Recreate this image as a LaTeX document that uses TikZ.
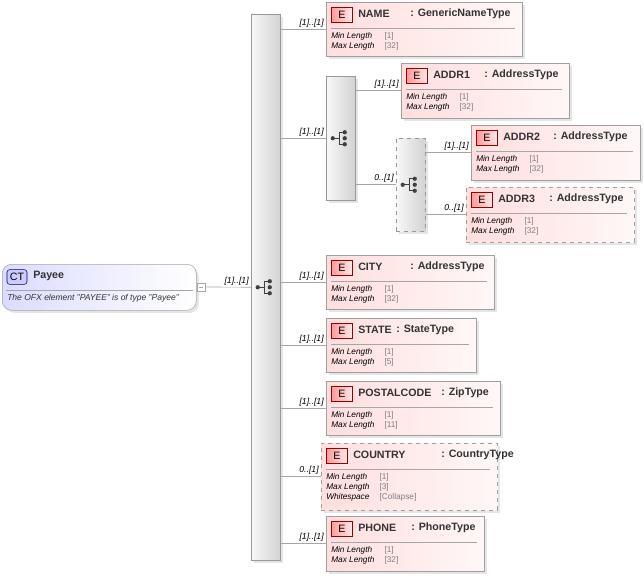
\documentclass[tikz,border=0pt]{standalone}
\usepackage{fontspec}
\setmainfont{Liberation Sans}
\usetikzlibrary{shadows}
\tikzset{
  px/.style={x=0.75pt,y=-0.75pt},
  bar/.style={draw=gray!80, left color=gray!6, right color=gray!35, anchor=north west, inner sep=0pt, drop shadow={shadow xshift=2pt, shadow yshift=-2pt, fill=gray!40}},
  elem/.style={draw=gray!75, left color=red!13, right color=red!3, anchor=north west, inner sep=0pt, drop shadow={shadow xshift=2pt, shadow yshift=-2pt, fill=gray!40}},
  badge/.style={draw=red!60!black, left color=red!40, right color=red!8, minimum width=16pt, minimum height=11pt, inner sep=0pt, font=\fontsize{8}{9}\selectfont},
  ttl/.style={anchor=west, inner sep=0pt, font=\bfseries\fontsize{8}{9}\selectfont, text=black!80},
  props/.style={anchor=north west, inner sep=0pt, align=left, font=\fontsize{6.2}{7.6}\selectfont},
  card/.style={above left, inner sep=1.5pt, font=\itshape\fontsize{6.5}{7}\selectfont},
  conn/.style={draw=gray!70, line width=0.5pt}
}
\def\bstyle{solid}
\newcommand\prop[2]{\makebox[40pt][l]{\textit{#1}}\textcolor{gray}{#2}}
% name, x, y, w, h, title, type, type offset, properties
\newcommand\elem[9]{%
  \node[elem, \bstyle, minimum width={#4*0.75pt}, minimum height={#5*0.75pt}] (#1) at (#2,#3) {};
  \node[badge] at (#2+16,#3+13) {E};
  \node[ttl] at (#2+32,#3+12) {#6};
  \node[ttl] at (#2+#8,#3+12) {: #7};
  \draw[gray!70] ([shift={(5,26)}]#1.north west) -- ([shift={(-8,26)}]#1.north east);
  \node[props] at (#2+5,#3+30) {#9};
}
\newcommand\seqicon[1]{%
  \fill[black!75] ([xshift=-6pt]#1) circle (1.6pt);
  \draw[black!75, line width=0.7pt] ([xshift=-6pt]#1) -- ([xshift=-1pt]#1)
    ([shift={(-1pt,-4.5pt)}]#1) -- ([shift={(-1pt,4.5pt)}]#1)
    ([shift={(-1pt,-4.5pt)}]#1) -- ([shift={(3pt,-4.5pt)}]#1)
    ([shift={(-1pt,4.5pt)}]#1) -- ([shift={(3pt,4.5pt)}]#1);
  \foreach \dy in {-4.5pt,0pt,4.5pt} \fill[black!75] ([shift={(3pt,\dy)}]#1) circle (1.6pt);
}
\begin{document}
\begin{tikzpicture}[px]
\path[use as bounding box] (0,0) rectangle (644,578);

% root
\node[draw=gray!70, rounded corners=7pt, left color=blue!14, right color=white, anchor=north west, minimum width={194*0.75pt}, minimum height={46*0.75pt}, inner sep=0pt, drop shadow={shadow xshift=2pt, shadow yshift=-2pt, fill=gray!40}] (payee) at (2,264) {};
\node[draw=blue!50!black, fill=blue!20, rounded corners=2pt, minimum width=15pt, minimum height=11pt, inner sep=0pt, font=\fontsize{8}{9}\selectfont] at (17,277) {CT};
\node[ttl] at (33,276) {Payee};
\draw[gray!70] (6,290) -- (193,290);
\node[anchor=west, inner sep=0pt, font=\itshape\fontsize{6.4}{7}\selectfont, text=black!80] at (7,298) {The OFX element "PAYEE" is of type "Payee"};
\node[draw=gray!70, fill=white, minimum size=6pt, inner sep=0pt] (pq) at (201,287) {};
\draw[gray!70] (199,287) -- (203,287);

% sequences
\node[bar, minimum width={29*0.75pt}, minimum height={546*0.75pt}] (main) at (251,14) {};
\seqicon{main.center}
\node[bar, minimum width={29*0.75pt}, minimum height={124*0.75pt}] (seq2) at (326,76) {};
\seqicon{seq2.center}
\node[bar, dashed, minimum width={29*0.75pt}, minimum height={93*0.75pt}] (seq3) at (396,138) {};
\seqicon{seq3.center}

% elements
\elem{name}{326}{2}{196}{54}{NAME}{GenericNameType}{84}{\prop{Min Length}{[1]}\\\prop{Max Length}{[32]}}
\elem{addr1}{401}{63}{168}{55}{ADDR1}{AddressType}{83}{\prop{Min Length}{[1]}\\\prop{Max Length}{[32]}}
\elem{addr2}{471}{125}{169}{55}{ADDR2}{AddressType}{82}{\prop{Min Length}{[1]}\\\prop{Max Length}{[32]}}
\def\bstyle{dashed}
\elem{addr3}{466}{187}{168}{55}{ADDR3}{AddressType}{83}{\prop{Min Length}{[1]}\\\prop{Max Length}{[32]}}
\def\bstyle{solid}
\elem{city}{326}{255}{168}{54}{CITY}{AddressType}{84}{\prop{Min Length}{[1]}\\\prop{Max Length}{[32]}}
\elem{state}{326}{318}{150}{54}{STATE}{StateType}{70}{\prop{Min Length}{[1]}\\\prop{Max Length}{[5]}}
\elem{postal}{326}{381}{174}{54}{POSTALCODE}{ZipType}{115}{\prop{Min Length}{[1]}\\\prop{Max Length}{[11]}}
\def\bstyle{dashed}
\elem{country}{321}{443}{176}{67}{COUNTRY}{CountryType}{120}{\prop{Min Length}{[1]}\\\prop{Max Length}{[3]}\\\prop{Whitespace}{[Collapse]}}
\def\bstyle{solid}
\elem{phone}{326}{516}{158}{55}{PHONE}{PhoneType}{85}{\prop{Min Length}{[1]}\\\prop{Max Length}{[32]}}

% connectors
\draw[conn] (pq) -- node[pos=1, card] {[1]..[1]} (main);
\draw[conn] (main.east |- name.west) -- node[pos=1, card] {[1]..[1]} (name.west);
\draw[conn] (main.east |- seq2.west) -- node[pos=1, card] {[1]..[1]} (seq2.west);
\draw[conn] (seq2.east |- addr1.west) -- node[pos=1, card] {[1]..[1]} (addr1.west);
\draw[conn] (seq2.east |- seq3.west) -- node[pos=1, card] {0..[1]} (seq3.west);
\draw[conn] (seq3.east |- addr2.west) -- node[pos=1, card] {[1]..[1]} (addr2.west);
\draw[conn] (seq3.east |- addr3.west) -- node[pos=1, card] {0..[1]} (addr3.west);
\draw[conn] (main.east |- city.west) -- node[pos=1, card] {[1]..[1]} (city.west);
\draw[conn] (main.east |- state.west) -- node[pos=1, card] {[1]..[1]} (state.west);
\draw[conn] (main.east |- postal.west) -- node[pos=1, card] {[1]..[1]} (postal.west);
\draw[conn] (main.east |- country.west) -- node[pos=1, card] {0..[1]} (country.west);
\draw[conn] (main.east |- phone.west) -- node[pos=1, card] {[1]..[1]} (phone.west);
\end{tikzpicture}
\end{document}
